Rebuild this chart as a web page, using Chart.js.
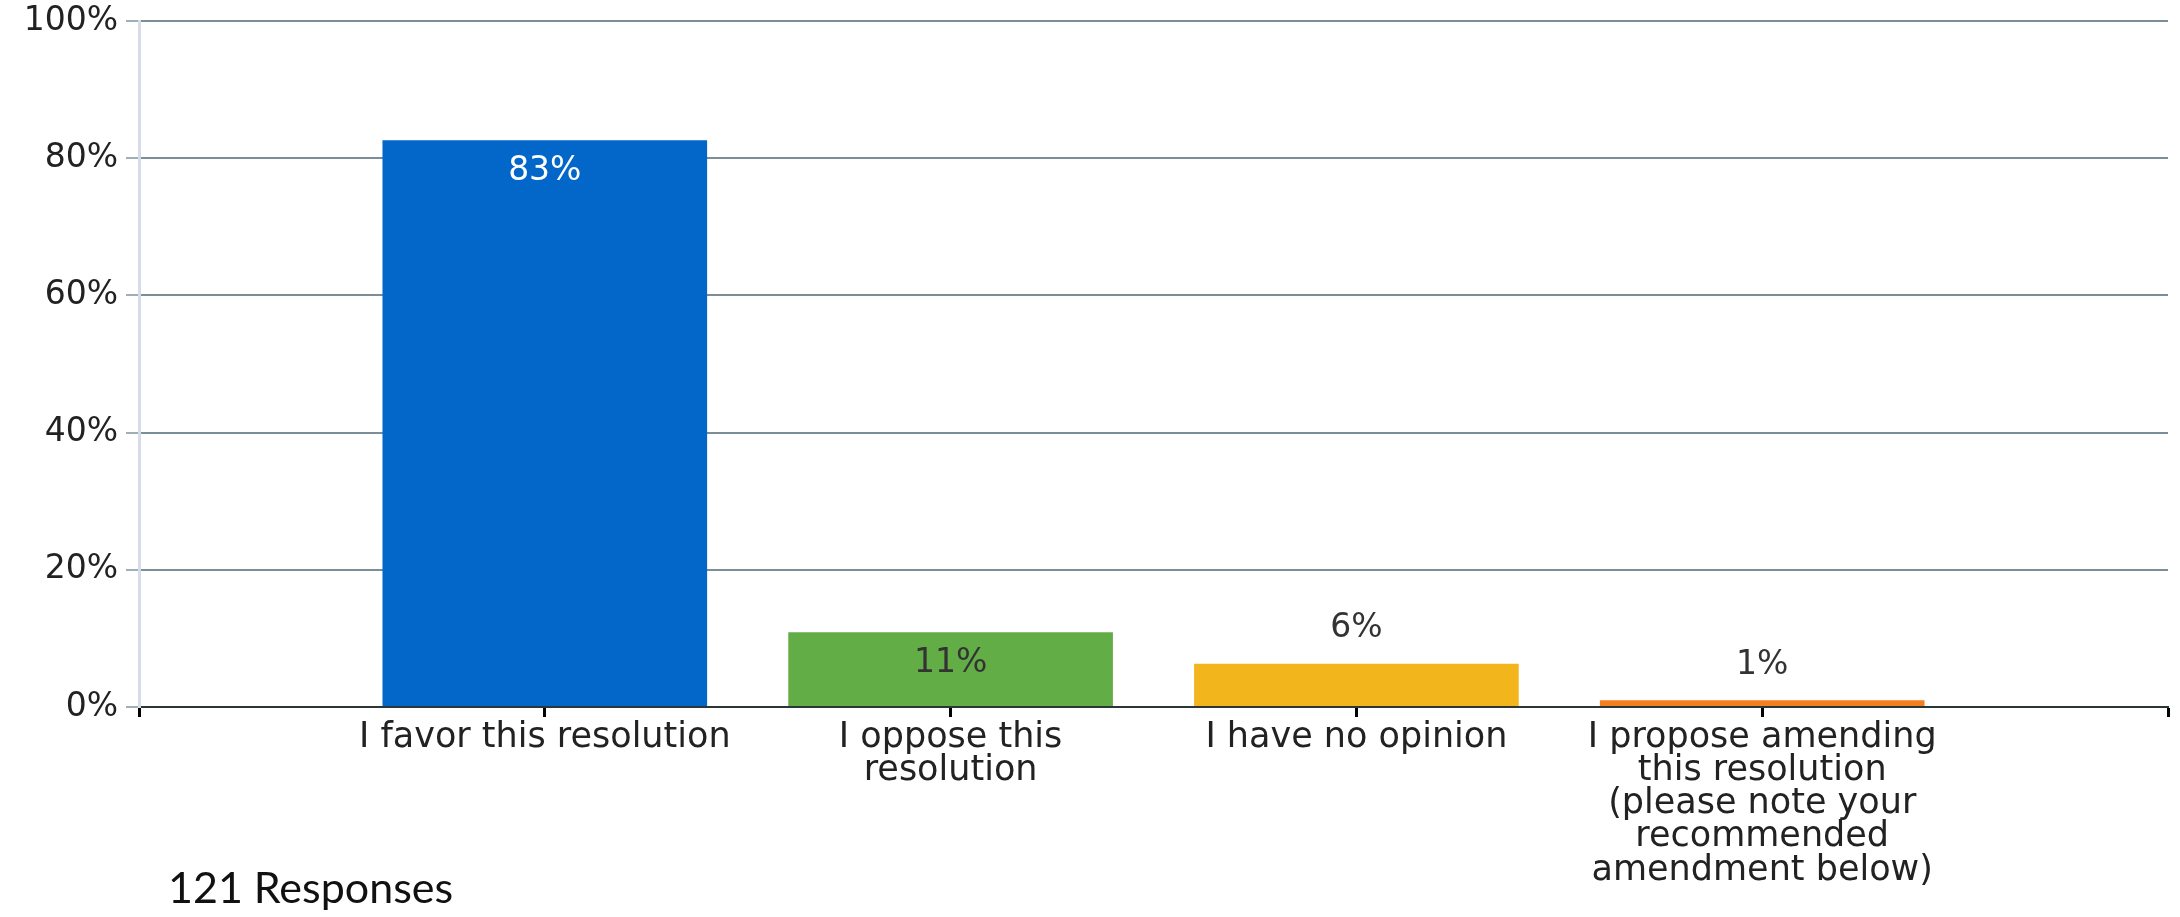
<!DOCTYPE html>
<html>
<head>
<meta charset="utf-8">
<script src="https://cdn.jsdelivr.net/npm/chart.js@4/dist/chart.umd.min.js"></script>
<style>
  html, body { margin: 0; padding: 0; background: #fff; }
  #wrap { position: relative; width: 2180px; height: 917px; }
  #note {
    position: absolute; left: 168px; top: 861px;
    font: 43px Lato, 'Open Sans', sans-serif; color: #111;
  }
</style>
</head>
<body>
<div id="wrap">
  <canvas id="chart"></canvas>
  <div id="note">121 Responses</div>
</div>
<script>
// Survey answers, one per bar (multi-line labels as arrays)
const categories = [
  'I favor this resolution',
  ['I oppose this', 'resolution'],
  'I have no opinion',
  ['I propose amending', 'this resolution', '(please note your', 'recommended', 'amendment below)'],
];
// Percent of responses
const percents = [82.6, 10.9, 6.3, 1.0];
const yTicks = [0, 20, 40, 60, 80, 100];

const barColors = ['#0366c9', '#63ad46', '#f2b61c', '#f47f20'];
const valueTextColors = ['#ffffff', '#333333', '#333333', '#333333'];

const fontFamily = "'DejaVu Sans', Verdana, sans-serif";

// The axis has an empty half-slot on both ends, so pad the category list.
const labels = [''].concat(categories, ['']);
const values = [null].concat(percents, [null]);
const colors = ['#fff'].concat(barColors, ['#fff']);

// Draws the % labels: inside the top of tall bars, above short ones.
const valueLabels = {
  id: 'valueLabels',
  afterDatasetsDraw(chart) {
    const ctx = chart.ctx;
    const meta = chart.getDatasetMeta(0);
    ctx.save();
    ctx.font = `33px ${fontFamily}`;
    ctx.textAlign = 'center';
    ctx.textBaseline = 'middle';
    meta.data.forEach((bar, i) => {
      const v = values[i];
      if (v == null) return;
      const text = Math.round(v) + '%';
      if (v >= 8) {
        ctx.fillStyle = valueTextColors[i - 1];
        ctx.fillText(text, bar.x, bar.y + 31);
      } else {
        ctx.fillStyle = '#333333';
        ctx.fillText(text, bar.x, bar.y - 35);
      }
    });
    ctx.restore();
  },
};

new Chart(document.getElementById('chart'), {
  type: 'bar',
  data: {
    labels,
    datasets: [{
      data: values,
      backgroundColor: colors,
      borderWidth: 0,
      categoryPercentage: 1,
      barPercentage: 0.8,
    }],
  },
  options: {
    responsive: true,
    maintainAspectRatio: false,
    animation: false,
    layout: { padding: { top: 0, right: 12, left: 0, bottom: 0 } },
    plugins: {
      legend: { display: false },
      tooltip: { enabled: false },
    },
    scales: {
      x: {
        offset: false,
        afterFit: (scale) => { scale.height = 210; },
        border: { color: '#2b3636', width: 2 },
        grid: {
          offset: false,
          drawOnChartArea: false,
          drawTicks: true,
          tickLength: 10,
          tickColor: '#000000',
          tickWidth: 3,
        },
        ticks: {
          color: '#222222',
          font: { family: fontFamily, size: 35, lineHeight: 0.95 },
          maxRotation: 0,
          autoSkip: false,
          padding: 4,
        },
      },
      y: {
        min: 0,
        max: 100,
        afterFit: (scale) => {
          scale.width = 139;
          scale.paddingTop = 21;
          scale.paddingBottom = 0;
        },
        afterBuildTicks: (scale) => { scale.ticks = yTicks.map((v) => ({ value: v })); },
        border: { color: '#d6dde9', width: 3 },
        grid: {
          color: '#7b8e98',
          lineWidth: 2,
          tickColor: '#9fafb7',
          tickLength: 13,
        },
        ticks: {
          color: '#222222',
          font: { family: fontFamily, size: 33 },
          padding: 8,
          callback: (v) => v + '%',
        },
      },
    },
  },
  plugins: [valueLabels],
});
</script>
</body>
</html>
